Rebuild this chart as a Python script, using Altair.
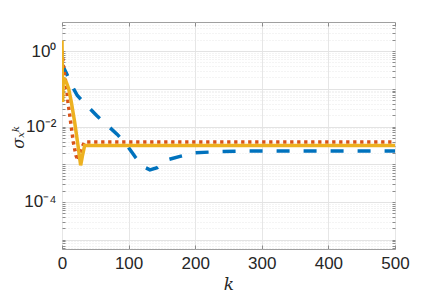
import altair as alt
import pandas as pd

# Series (k, sigma_x^k)
blue_k = [0, 7, 13, 23, 37, 52, 67, 83, 95, 110, 122, 132, 143, 159, 180, 200, 230, 270, 500]
blue_v = [0.447, 0.251, 0.138, 0.0661, 0.0363, 0.0195, 0.0112, 0.00617, 0.00363, 0.00155,
          0.000871, 0.000708, 0.000813, 0.00132, 0.00166, 0.00200, 0.00214, 0.00224, 0.00224]

red_k = [0, 2, 7, 9, 13, 17, 21, 24, 29, 34, 500]
red_v = [1.0, 0.417, 0.1, 0.0447, 0.0132, 0.00389, 0.0017, 0.00126, 0.00263, 0.00389, 0.00389]

yel_k = [0, 1, 2, 4, 7, 10, 14, 19, 24, 28, 31, 34, 500]
yel_v = [1.91, 0.0447, 0.191, 0.178, 0.141, 0.1, 0.0447, 0.0132, 0.00316, 0.000933, 0.00178, 0.00316, 0.00316]

x_ticks = [0, 100, 200, 300, 400, 500]
y_grid = [m * 10.0 ** e for e in range(-6, 1) for m in range(1, 10)]
y_grid = [v for v in y_grid if 5.66e-6 <= v <= 5.89]

FONT = "Liberation Sans"
TICK = "#8c8c8c"

major_test = "abs(log(datum.value)/LN10 - round(log(datum.value)/LN10)) < 0.001"
label_expr = ("abs(log(datum.value)/LN10) < 0.001 ? '10⁰' : "
              "abs(log(datum.value)/LN10 + 2) < 0.001 ? '10⁻²' : "
              "abs(log(datum.value)/LN10 + 4) < 0.001 ? '10⁻⁴' : ''")

def xs():
    return alt.Scale(domain=[0, 500], nice=False)

def ys():
    return alt.Scale(type="log", domain=[5.66e-6, 5.89], nice=False)

x_axis_main = alt.Axis(values=x_ticks, title="k", titleFont="DejaVu Serif", titleFontStyle="italic",
                       titleFontWeight="normal", titleFontSize=17, titleColor="#262626", titlePadding=5,
                       labelFont=FONT, labelFontSize=17, labelColor="#262626", labelPadding=6,
                       labelFlush=False, offset=-4, tickSize=4, tickColor=TICK, domain=False,
                       gridColor="#e6e6e6", gridWidth=1)
y_axis_main = alt.Axis(values=y_grid, labelExpr=label_expr, title="σₓᵏ", titleFont="DejaVu Serif",
                       titleFontStyle="italic", titleFontWeight="normal", titleFontSize=16,
                       titleColor="#262626", titleX=-47, titleY=115, titleAlign="center",
                       titleBaseline="middle", titleAngle=270,
                       labelFont=FONT, labelFontSize=17, labelColor="#262626", labelPadding=6,
                       offset=-3, tickSize=3, tickColor=TICK, domain=False,
                       gridColor={"condition": {"test": major_test, "value": "#e3e3e3"}, "value": "#e8e8e8"},
                       gridDash={"condition": {"test": major_test, "value": []}, "value": [1, 2]},
                       gridWidth=1)
x_axis_top = alt.Axis(values=x_ticks, orient="top", title=None, labels=False, grid=False,
                      offset=-4, tickSize=4, tickColor=TICK, domain=False)
y_axis_right = alt.Axis(values=y_grid, orient="right", title=None, labels=False, grid=False,
                        offset=-3, tickSize=3, tickColor=TICK, domain=False)

def series(ks, vs, color, dash, xa, ya):
    df = pd.DataFrame({"k": ks, "v": vs})
    kw = dict(color=color, strokeWidth=3.5, clip=True)
    if dash:
        kw["strokeDash"] = dash
    return alt.Chart(df).mark_line(**kw).encode(
        x=alt.X("k:Q", scale=xs(), axis=xa),
        y=alt.Y("v:Q", scale=ys(), axis=ya),
    )

chart = alt.layer(
    series(blue_k, blue_v, "#0072BD", [13, 14], x_axis_main, y_axis_main),
    series(red_k, red_v, "#D95319", [3.3, 3.7], x_axis_top, y_axis_right),
    series(yel_k, yel_v, "#EDB120", None, None, None),
).resolve_scale(x="independent", y="independent").resolve_axis(
    x="independent", y="independent"
).properties(
    width=333, height=227,
    padding={"left": 54, "top": 14, "right": 33, "bottom": 48},
    autosize="none",
).configure_view(stroke="#a0a0a0", strokeWidth=1)

chart.save("out.html", embed_options={"renderer": "svg", "actions": False})
